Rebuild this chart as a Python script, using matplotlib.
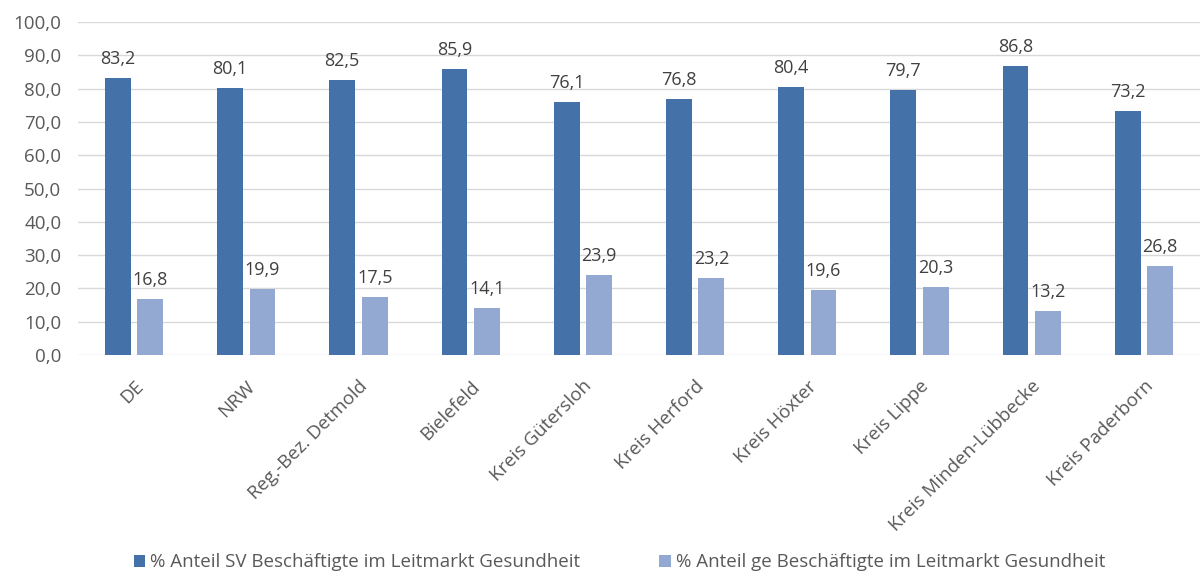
import matplotlib
matplotlib.use("Agg")
import matplotlib.pyplot as plt
import numpy as np

categories = ["DE", "NRW", "Reg.-Bez. Detmold", "Bielefeld", "Kreis Gütersloh",
              "Kreis Herford", "Kreis Höxter", "Kreis Lippe", "Kreis Minden-Lübbecke",
              "Kreis Paderborn"]
sv_values = [83.2, 80.1, 82.5, 85.9, 76.1, 76.8, 80.4, 79.7, 86.8, 73.2]
ge_values = [16.8, 19.9, 17.5, 14.1, 23.9, 23.2, 19.6, 20.3, 13.2, 26.8]
series_names = ["% Anteil SV Beschäftigte im Leitmarkt Gesundheit",
                "% Anteil ge Beschäftigte im Leitmarkt Gesundheit"]
yticks = [0, 10, 20, 30, 40, 50, 60, 70, 80, 90, 100]

plt.rcParams['font.family'] = ['Open Sans', 'DejaVu Sans']
txt = '#595959'
c1 = '#4472a8'
c2 = '#93a9d1'

fig = plt.figure(figsize=(12.03, 5.74), dpi=100)
ax = fig.add_axes([78/1203, 1 - 355/574, (1200-78)/1203, (355-22)/574])

x = np.arange(len(categories))
w = 0.23
off = 0.145
b1 = ax.bar(x - off, sv_values, w, color=c1, label=series_names[0], zorder=3)
b2 = ax.bar(x + off, ge_values, w, color=c2, label=series_names[1], zorder=3)

def fmt(v):
    return f"{v:.1f}".replace('.', ',')

for rect, v in zip(b1, sv_values):
    ax.text(rect.get_x() + rect.get_width()/2, v + 3, fmt(v), ha='center', va='bottom',
            fontsize=13, color='#404040')
for rect, v in zip(b2, ge_values):
    ax.text(rect.get_x() + rect.get_width()/2, v + 3, fmt(v), ha='center', va='bottom',
            fontsize=13, color='#404040')

ax.set_xlim(-0.5, len(categories) - 0.5)
ax.set_ylim(0, 100)
ax.set_yticks(yticks)
ax.set_yticklabels([fmt(v) for v in yticks], fontsize=13.5, color=txt)
ax.set_xticks(x)
ax.set_xticklabels(categories, rotation=45, ha='right', rotation_mode='anchor',
                   fontsize=13.5, color=txt)
ax.tick_params(axis='both', length=0)
ax.tick_params(axis='y', pad=12)
ax.tick_params(axis='x', pad=16)
for s in ax.spines.values():
    s.set_visible(False)
ax.grid(axis='y', color='#d9d9d9', linewidth=1, zorder=0)
ax.set_axisbelow(True)

leg = fig.legend(handles=[b1, b2], labels=series_names, loc='lower center',
                 bbox_to_anchor=(0.515, -0.025), ncol=2, frameon=False, fontsize=13.5,
                 handlelength=0.6, handleheight=0.6, handletextpad=0.3, columnspacing=4.2)
for t in leg.get_texts():
    t.set_color(txt)

fig.savefig("out.png", dpi=100)
